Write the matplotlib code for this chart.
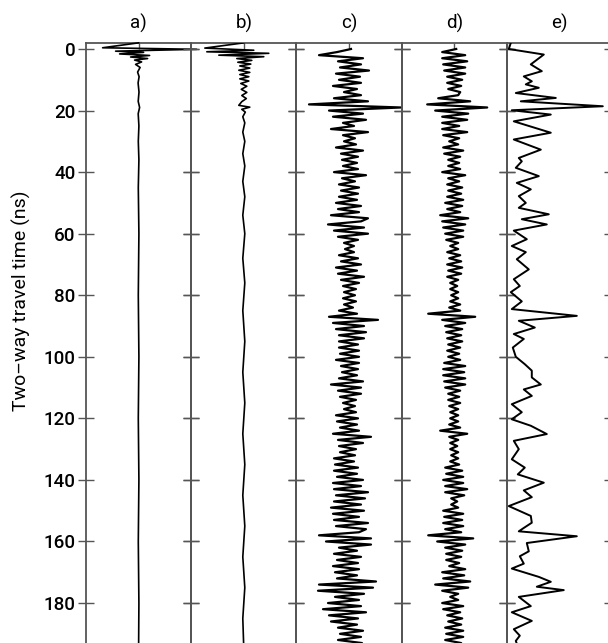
import numpy as np
import matplotlib
matplotlib.use("Agg")
import matplotlib.pyplot as plt

plt.rcParams['font.family'] = ['Roboto', 'DejaVu Sans']

panel_titles = ['a)', 'b)', 'c)', 'd)', 'e)']
y_ticks = [0, 20, 40, 60, 80, 100, 120, 140, 160, 180]
y_label = 'Two\u2013way travel time (ns)'

# trace a: sparse picks (time ns, amplitude)
a_t = [-2, -0.4, 0.1, 0.7, 1.1, 1.6, 2.1, 2.6, 3.1, 3.6,
       4.2, 5.0, 6.0, 7.5, 9, 11, 14, 17, 19, 21,
       25, 30, 36, 45, 60, 80, 100, 120, 140, 160,
       180, 195]
a_amp = [0, -36, 58, -23, 5, -19, 11, -8, 9, -4,
         3, -3, 1.5, -1, 0.5, -0.5, 0.4, -0.4, 1, -0.4,
         0.3, -0.3, 0.3, -0.3, 0.3, -0.3, 0.3, -0.3, 0.3, -0.3,
         0.3, 0]

# trace b
b_t = [-2, -0.3, 0.4, 0.9, 1.4, 2.0, 2.5, 3.1, 3.7, 4.3,
       4.9, 5.5, 6.2, 6.9, 7.6, 8.3, 9.0, 9.7, 10.4, 11.2,
       12.1, 13.1, 14.1, 15.1, 16.1, 17.1, 18.3, 18.9, 19.6, 20.5,
       22, 24, 27, 30, 34, 38, 43, 48, 54, 60,
       68, 76, 85, 95, 105, 115, 125, 135, 145, 155,
       165, 175, 185, 195]
b_amp = [0, -39, 10, -37, 25, -25, 20, -7, 8, -6,
         7, -4, 6, -5, 6, -4, 5, -4, 5, -3,
         3, -2.5, 3, -2, 2.5, -2, -5, 6, -2, 1.5,
         -1, 1, -1, 1, -1, 1, -1, 1, -1, 1,
         -1, 1, -1, 1, -1, 1, -1, 1, -1, 1,
         -1, 1, -1, 0]

# traces c and d: one sample per ns, 0..194 ns
c_amp = [2, -12, -30, 14, -11, 12, -9, 20, -13, 11,
         -10, 12, -16, 8, -5, 12, -15, 19, -40, 52,
         -20, 14, -16, 17, -6, 5, -18, 19, -6, 6,
         -5, 7, -13, 14, -8, 9, -7, 8, -6, 9,
         -15, 17, -7, 6, -10, 10, -8, 9, -10, 8,
         -13, 12, -11, 10, -18, 19, 12, -21, 15, -15,
         19, -11, 9, -5, 5, -4, 5, -10, 9, -8,
         12, -13, 8, -11, 15, -8, 10, -6, 7, -5,
         6, -6, 7, -5, 4, -10, 8, -20, 29, -16,
         15, -13, 17, -10, 15, -10, 9, -10, 10, -9,
         10, -13, 10, -8, 9, -7, 8, -10, 14, -18,
         12, -11, 12, -9, 7, -6, 6, -5, 7, -13,
         9, -12, 8, -9, 10, -16, 22, -11, 14, -10,
         7, -9, 6, -15, 5, -14, 9, -15, 8, -12,
         14, -16, 12, -15, 19, -13, 16, -15, 12, -18,
         15, -16, 10, -15, 19, -13, 17, 10, -30, 22,
         -23, 22, -10, 8, -15, 12, -12, 9, -16, 10,
         -14, 8, -12, 27, -30, 24, -31, 15, -14, 10,
         -21, 12, -26, 17, -20, 9, -18, 8, -11, 14,
         -9, 12, -11, 13, -10]
d_amp = [2, -12, 11, -12, 13, -11, 11, -10, 11, -7,
         8, -7, 7, -6, 6, 4, -16, 16, -27, 33,
         -19, 14, -12, 13, -12, 5, -12, 13, -11, 5,
         -5, 4, -11, 9, -10, 6, -6, 5, -6, 6,
         -12, 11, -6, 5, -7, 8, -6, 7, -7, 9,
         -9, 8, -7, 6, -14, 14, -12, 11, -11, 9,
         -9, 9, -8, 4, -4, 4, -7, 6, -5, 7,
         -7, 8, -6, 7, -7, 4, -4, 3, -4, 4,
         -3, 4, -4, 6, -5, 6, -26, 21, -12, 11,
         -9, 8, -8, 7, -7, 8, -6, 6, -7, 5,
         -6, 6, -10, 11, -11, 10, -11, 11, -10, 11,
         -9, 6, -6, 5, -6, 6, -5, 4, -4, 4,
         -4, 4, -5, 6, -14, 13, -5, 4, -4, 3,
         -4, 4, -3, 4, -4, 5, -9, 8, -8, 9,
         -11, 9, -9, 13, -9, 10, -3, 3, -3, 4,
         -11, 9, -10, 8, -11, 9, -9, 7, -26, 19,
         -17, 11, -9, 8, -8, 7, -8, 5, -5, 11,
         -12, 10, -11, 16, -19, 14, -12, 4, -4, 4,
         -12, 9, -11, 6, -7, 8, -6, 7, -9, 9,
         -8, 9, -9, 7, -6]

# trace e: turning points of the one-sided curve
e_t = [-2, 0, 1.8, 5, 7.2, 8.9, 10.5, 11.5, 12.6, 14.3,
       15.9, 17, 18.6, 19.9, 21.3, 23.5, 27.2, 29.4, 32.7, 35.4,
       36.5, 38.6, 41.3, 43.5, 45.6, 47.8, 50, 51.6, 53.7, 55.3,
       57, 59, 61.8, 64, 66, 68.3, 71.6, 74.8, 77, 79,
       82, 84.5, 86.7, 88.3, 90.5, 92.6, 94.2, 97, 100, 102.4,
       104.5, 106.7, 109, 110.6, 112.7, 115.4, 118, 120.3, 122.4, 125.1,
       127.3, 130, 133.3, 136, 138.2, 140.9, 143.4, 145.6, 148.5, 151.7,
       153.9, 155.6, 156.7, 158.3, 160.5, 163.2, 164.8, 167.2, 168.8, 171.5,
       173.1, 174.7, 175.8, 178, 181, 183, 185.8, 188.5, 190.6, 192.3,
       195]
e_amp = [4, 2, 37, 24, 35, 17, 25, 19, 32, 9,
         49, 14, 96, 5, 44, 7, 44, 7, 34, 12,
         15, 9, 32, 10, 24, 12, 19, 12, 42, 15,
         40, 7, 20, 5, 19, 10, 22, 7, 13, 4,
         15, 5, 70, 12, 28, 7, 17, 6, 9, 18,
         25, 25, 34, 17, 25, 5, 15, 5, 24, 40,
         7, 12, 5, 18, 11, 37, 17, 25, 2, 24,
         25, 17, 12, 70, 20, 22, 13, 17, 5, 32,
         44, 30, 57, 12, 24, 5, 25, 7, 13, 9,
         12]

c_t = np.arange(len(c_amp))
d_t = np.arange(len(d_amp))

traces = [(a_t, a_amp), (b_t, b_amp), (c_t, c_amp), (d_t, d_amp), (e_t, e_amp)]
widths = [1.2, 1.2, 1.6, 1.6, 1.4]

# figure geometry (pixels)
W, H = 608.0, 643.0
x0, pw = 86.0, 105.2
y_top, px_ns = 43.0, 3.078
t_top = -(49.0 - y_top) / px_ns
t_bot = 200.0
y_bot = 49.0 + t_bot * px_ns

fig = plt.figure(figsize=(W / 100, H / 100), dpi=100)
spine_col = '#555555'

for i, (t, amp) in enumerate(traces):
    ax = fig.add_axes([(x0 + i * pw) / W, 1 - y_bot / H, pw / W, (y_bot - y_top) / H])
    if i < 4:
        ax.set_xlim(-pw / 2, pw / 2)
    else:
        ax.set_xlim(0, pw)
    ax.set_ylim(t_bot, t_top)
    ax.plot(amp, t, color='black', lw=widths[i], clip_on=(i != 0), zorder=3)
    ax.set_title(panel_titles[i], fontsize=13.5, pad=10)
    ax.set_yticks(y_ticks)
    ax.tick_params(axis='y', direction='inout', length=11, width=1, color=spine_col,
                   left=True, right=True, labelleft=(i == 0), labelsize=13.5, pad=2)
    for lab in ax.get_yticklabels():
        lab.set_fontweight('medium')
    ax.set_xticks([0])
    ax.tick_params(axis='x', direction='in', length=4, width=1, color=spine_col,
                   top=True, bottom=False, labeltop=False, labelbottom=False)
    for s in ax.spines.values():
        s.set_color(spine_col)
        s.set_linewidth(1.3)
    ax.patch.set_visible(False)

fig.text(21 / W, 1 - 301 / H, y_label, rotation=90, ha='center', va='center', fontsize=14)

fig.savefig('out.png', dpi=100)
